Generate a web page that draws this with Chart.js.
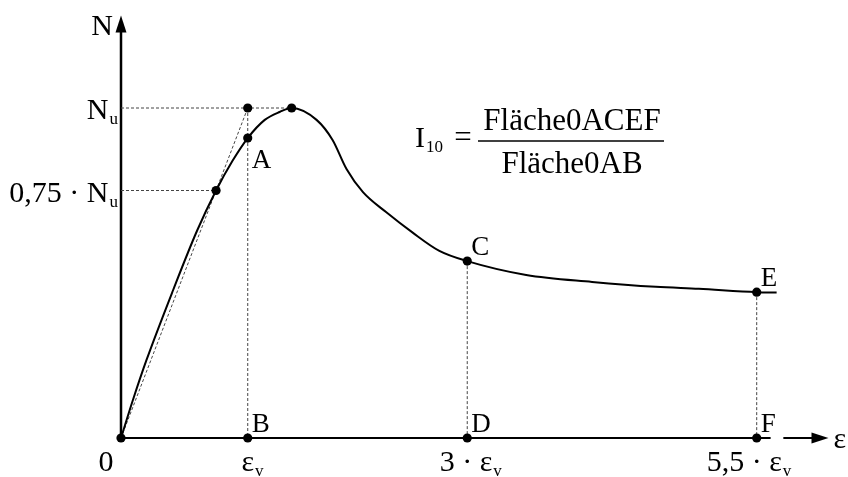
<!DOCTYPE html>
<html>
<head>
<meta charset="utf-8">
<script src="https://cdn.jsdelivr.net/npm/chart.js@4/dist/chart.umd.min.js"></script>
<style>
  html, body { margin: 0; padding: 0; background: #fff; }
  #wrap { position: relative; width: 848px; height: 477px; }
</style>
</head>
<body>
<div id="wrap"><canvas id="chart"></canvas></div>
<script>
"use strict";

/* load–strain curve, strain in multiples of eps_v, load in multiples of N_u */
var curveStrain = [0, 0.094, 0.2, 0.41, 0.6, 0.75, 0.88, 1, 1.155, 1.291, 1.40, 1.627, 1.773, 1.90, 2.05, 2.263, 2.50, 2.746, 3, 3.509, 4.078, 4.629, 5.0, 5.5, 5.672];
var curveLoad   = [0, 0.115, 0.235, 0.447, 0.628, 0.75, 0.84, 0.909, 0.964, 0.988, 1.0, 0.964, 0.903, 0.815, 0.745, 0.684, 0.623, 0.567, 0.536, 0.494, 0.473, 0.458, 0.452, 0.442, 0.441];

/* marked points */
var markName   = ['0', 'q', 'A', 'Nu', 'peak', 'B', 'C', 'D', 'E', 'F'];
var markStrain = [0, 0.75, 1, 1, 1.40, 1, 3, 3, 5.5, 5.5];
var markLoad   = [0, 0.75, 0.909, 1, 1.0, 0, 0.536, 0, 0.442, 0];

/* axis ticks (base text + subscript) */
var xTickValues = [0, 1, 3, 5.5];
var xTickBase   = ['0', 'ε', '3 · ε', '5,5 · ε'];
var xTickSub    = ['', 'v', 'v', 'v'];
var yTickValues = [0.75, 1];
var yTickBase   = ['0,75 · N', 'N'];
var yTickSub    = ['u', 'u'];

/* schematic strain axis: strain -> drawn position (not to scale) */
var AXIS_KNOTS_STRAIN = [0, 1, 3, 5.5];
var AXIS_KNOTS_POS    = [0, 1, 2.732, 5.016];
var X_AXIS_GAP = [5.62, 5.73];
var X_AXIS_END = 6.12;
var Y_AXIS_END = 1.28;

var SERIF = "'Liberation Serif', 'Times New Roman', serif";

function axisPos(e) {
  var k = AXIS_KNOTS_STRAIN, p = AXIS_KNOTS_POS, i = 1;
  while (i < k.length - 1 && e > k[i]) i++;
  return p[i - 1] + (e - k[i - 1]) * (p[i] - p[i - 1]) / (k[i] - k[i - 1]);
}

function pts(xs, ys) {
  return xs.map(function(e, i) { return { x: axisPos(e), y: ys[i] }; });
}

function mark(name) {
  var i = markName.indexOf(name);
  return { s: markStrain[i], n: markLoad[i] };
}

/* dashed helper lines */
var guideLines = [
  [[0, 0], [mark('Nu').s, mark('Nu').n]],
  [[0, mark('Nu').n], [mark('peak').s, mark('peak').n]],
  [[0, mark('q').n], [mark('q').s, mark('q').n]],
  [[mark('Nu').s, mark('Nu').n], [mark('B').s, 0]],
  [[mark('C').s, mark('C').n], [mark('D').s, 0]],
  [[mark('E').s, mark('E').n], [mark('F').s, 0]]
];

var datasets = [{
  data: pts(markStrain, markLoad),
  showLine: false,
  pointRadius: 4.6,
  pointBackgroundColor: '#000',
  pointBorderWidth: 0,
  clip: false,
  order: 0
}, {
  data: pts(curveStrain, curveLoad),
  showLine: true,
  borderColor: '#000',
  borderWidth: 2,
  pointRadius: 0,
  cubicInterpolationMode: 'monotone',
  clip: false,
  order: 1
}];

guideLines.forEach(function(g) {
  datasets.push({
    data: pts([g[0][0], g[1][0]], [g[0][1], g[1][1]]),
    showLine: true,
    borderColor: '#444',
    borderWidth: 1,
    borderDash: [3, 2],
    pointRadius: 0,
    clip: false,
    order: 2
  });
});

function subText(ctx, base, sub, x, y, size, align) {
  var subSize = Math.round(size * 0.57);
  ctx.font = size + 'px ' + SERIF;
  var wb = ctx.measureText(base).width;
  ctx.font = subSize + 'px ' + SERIF;
  var ws = sub ? ctx.measureText(sub).width : 0;
  var x0 = align === 'right' ? x - wb - ws : align === 'center' ? x - (wb + ws) / 2 : x;
  ctx.textAlign = 'left';
  ctx.font = size + 'px ' + SERIF;
  ctx.fillText(base, x0, y);
  if (sub) {
    ctx.font = subSize + 'px ' + SERIF;
    ctx.fillText(sub, x0 + wb + 1, y + 5);
  }
  ctx.font = size + 'px ' + SERIF;
}

var axesPlugin = {
  id: 'schemaAxes',
  beforeDatasetsDraw: function(chart) {
    var ctx = chart.ctx, xs = chart.scales.x, ys = chart.scales.y;
    var x0 = xs.getPixelForValue(0), y0 = ys.getPixelForValue(0);
    var yTip = ys.getPixelForValue(Y_AXIS_END);
    var xTip = xs.getPixelForValue(axisPos(X_AXIS_END));
    var gA = xs.getPixelForValue(axisPos(X_AXIS_GAP[0]));
    var gB = xs.getPixelForValue(axisPos(X_AXIS_GAP[1]));
    ctx.save();
    ctx.strokeStyle = '#000';
    ctx.fillStyle = '#000';
    ctx.lineWidth = 2.5;
    ctx.beginPath();
    ctx.moveTo(x0, y0); ctx.lineTo(x0, yTip + 14);
    ctx.stroke();
    ctx.beginPath();
    ctx.moveTo(x0, yTip); ctx.lineTo(x0 - 5.5, yTip + 17); ctx.lineTo(x0 + 5.5, yTip + 17);
    ctx.closePath(); ctx.fill();
    ctx.lineWidth = 2;
    ctx.beginPath();
    ctx.moveTo(x0, y0); ctx.lineTo(gA, y0);
    ctx.moveTo(gB, y0); ctx.lineTo(xTip - 14, y0);
    ctx.stroke();
    ctx.beginPath();
    ctx.moveTo(xTip, y0); ctx.lineTo(xTip - 17, y0 - 5.5); ctx.lineTo(xTip - 17, y0 + 5.5);
    ctx.closePath(); ctx.fill();
    ctx.restore();
  },
  afterDatasetsDraw: function(chart) {
    var ctx = chart.ctx, xs = chart.scales.x, ys = chart.scales.y;
    var x0 = xs.getPixelForValue(0), y0 = ys.getPixelForValue(0);
    ctx.save();
    ctx.fillStyle = '#000';
    ctx.strokeStyle = '#000';
    ctx.textBaseline = 'alphabetic';

    // axis names
    ctx.font = '30px ' + SERIF;
    ctx.textAlign = 'right';
    ctx.fillText('N', x0 - 8, ys.getPixelForValue(Y_AXIS_END) + 19);
    ctx.textAlign = 'left';
    ctx.fillText('ε', xs.getPixelForValue(axisPos(X_AXIS_END)) + 5, y0 + 10);

    // load ticks
    yTickValues.forEach(function(v, i) {
      subText(ctx, yTickBase[i], yTickSub[i], x0 - 4, ys.getPixelForValue(v) + 11, 30, 'right');
    });

    // strain ticks, the dot sits on the tick
    xTickValues.forEach(function(v, i) {
      var px = xs.getPixelForValue(axisPos(v)), base = xTickBase[i], by = y0 + 33;
      ctx.font = '30px ' + SERIF;
      var dot = base.indexOf('·');
      if (v === 0) {
        ctx.textAlign = 'center';
        ctx.fillText(base, px - 15, by);
        return;
      }
      if (dot < 0) {
        var w = ctx.measureText(base).width;
        subText(ctx, base, xTickSub[i], px - w / 2, by, 30, 'left');
      } else {
        var pre = ctx.measureText(base.slice(0, dot)).width;
        var wd = ctx.measureText('·').width;
        subText(ctx, base, xTickSub[i], px - pre - wd / 2, by, 30, 'left');
      }
    });

    // point letters
    ctx.font = '27px ' + SERIF;
    ctx.textAlign = 'left';
    ['A', 'B', 'C', 'D', 'E', 'F'].forEach(function(n) {
      var m = mark(n);
      var px = xs.getPixelForValue(axisPos(m.s)), py = ys.getPixelForValue(m.n);
      var dy = (n === 'A') ? 30 : -6;
      ctx.fillText(n, px + 4, py + dy);
    });

    // ductility index
    subText(ctx, 'I', '10', 415, 147, 30, 'left');
    ctx.font = '31px ' + SERIF;
    ctx.textAlign = 'center';
    ctx.fillText('=', 463, 147);
    ctx.fillText('Fläche0ACEF', 572, 130);
    ctx.fillText('Fläche0AB', 572, 173);
    ctx.lineWidth = 1.5;
    ctx.beginPath();
    ctx.moveTo(478, 141); ctx.lineTo(664, 141);
    ctx.stroke();
    ctx.restore();
  }
};

new Chart(document.getElementById('chart'), {
  type: 'scatter',
  data: { datasets: datasets },
  options: {
    responsive: true,
    maintainAspectRatio: false,
    animation: false,
    layout: { padding: { left: 121, right: 3, top: 9, bottom: 39 } },
    plugins: { legend: { display: false }, tooltip: { enabled: false } },
    scales: {
      x: { type: 'linear', min: 0, max: 5.7, display: false },
      y: { type: 'linear', min: 0, max: 1.3, display: false }
    }
  },
  plugins: [axesPlugin]
});
</script>
</body>
</html>
